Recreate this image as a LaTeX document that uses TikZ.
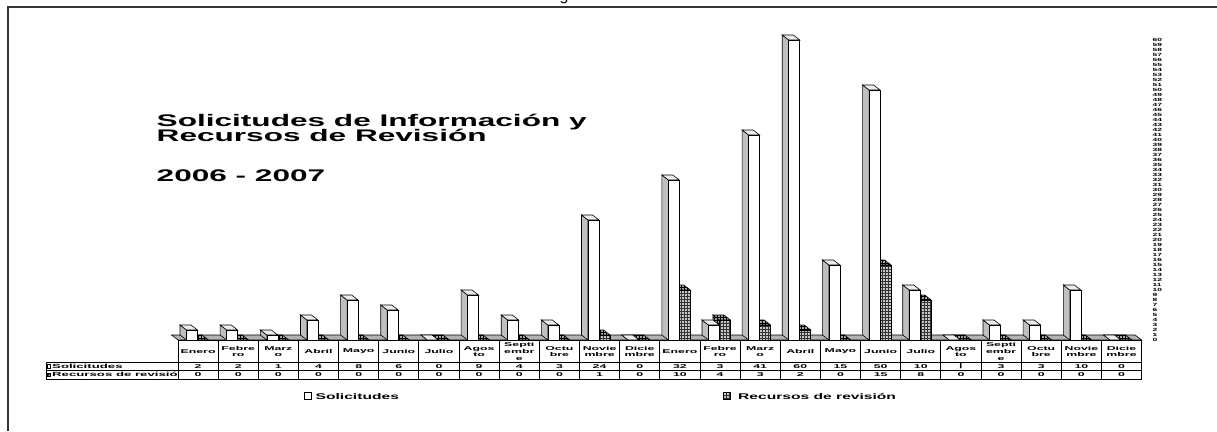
\documentclass[tikz,border=0pt]{standalone}
\usepackage{fontspec}
\setmainfont{Liberation Sans}
\newfontfamily\chartfont[FakeStretch=1.88]{Liberation Sans}
\newfontfamily\tabfont[FakeStretch=2.2]{Liberation Sans}
\usetikzlibrary{patterns}

\begin{document}
\begin{tikzpicture}[x=1pt, y=-1pt,
    cell/.style={inner sep=0pt, align=center, font=\tabfont\bfseries\fontsize{5.6}{6.8}\selectfont},
    rowlabel/.style={anchor=west, inner sep=0pt, font=\tabfont\bfseries\fontsize{6}{7}\selectfont},
    tick/.style={anchor=west, inner sep=0pt, font=\chartfont\bfseries\fontsize{4.5}{5}\selectfont},
    legend/.style={anchor=base west, inner sep=0pt, font=\chartfont\bfseries\fontsize{8.3}{9}\selectfont},
    title/.style={anchor=base west, inner sep=0pt, font=\chartfont\bfseries\fontsize{16.8}{18}\selectfont},
    tablegrid/.style={draw=black, line width=0.9pt},
    solfront/.style={draw=black, line width=0.6pt, fill=white},
    solside/.style={draw=black, line width=0.6pt, fill=gray!50},
    soltop/.style={draw=black, line width=0.6pt, fill=gray!15},
    recfront/.style={draw=black, line width=0.6pt, preaction={fill=gray!45}, pattern=grid, pattern color=black!80},
    recside/.style={draw=black, line width=0.6pt, preaction={fill=gray!70}, pattern=grid, pattern color=black}]

  \useasboundingbox (0,0) rectangle (1217,431);
  \node[anchor=base, inner sep=0pt, font=\fontsize{16}{16}\selectfont] (cutg) at (564,0.5) {g};
  \draw[line width=1.2pt, black!80] (8,431) -- (8,7) -- (1217,7);

  \node[title] (title1) at (156.5,126.7) {Solicitudes de Información y};
  \node[title] (title2) at (156.5,141.7) {Recursos de Revisión};
  \node[title] (years) at (156.5,181) {2006 - 2007};

  \filldraw[fill=gray!60, draw=black, line width=0.6pt] (178,340) -- (1141.6,340) -- (1135.1,335) -- (171.5,335) -- cycle;

  \foreach \s/\r/\ls [count=\i from 0] in {2/0/2,2/0/2,1/0/1,4/0/4,8/0/8,6/0/6,0/0/0,9/0/9,4/0/4,3/0/3,24/1/24,0/0/0,32/10/32,3/4/3,41/3/41,60/2/60,15/0/15,50/15/50,10/8/10,0/0/|,3/0/3,3/0/3,10/0/10,0/0/0}{
    \pgfmathsetmacro\xr{178+40.15*\i+19.5}
    \pgfmathsetmacro\xs{\xr-11}
    \pgfmathsetmacro\hr{340-5*\r}
    \pgfmathsetmacro\hs{340-5*\s}
    \draw[recside] (\xr,340) -- ({\xr-6.5},335) -- ({\xr-6.5},{\hr-5}) -- (\xr,\hr) -- cycle;
    \draw[recside] (\xr,\hr) -- ({\xr-6.5},{\hr-5}) -- ({\xr+4.5},{\hr-5}) -- ({\xr+11},\hr) -- cycle;
    \draw[recfront] (\xr,340) rectangle ({\xr+11},\hr);
    \draw[solside] (\xs,340) -- ({\xs-6.5},335) -- ({\xs-6.5},{\hs-5}) -- (\xs,\hs) -- cycle;
    \draw[soltop] (\xs,\hs) -- ({\xs-6.5},{\hs-5}) -- ({\xs+4.5},{\hs-5}) -- ({\xs+11},\hs) -- cycle;
    \draw[solfront] (\xs,340) rectangle ({\xs+11},\hs);
    \node[cell] (sol\i) at ({178+40.15*(\i+0.5)},366.3) {\ls};
    \node[cell] (rec\i) at ({178+40.15*(\i+0.5)},374.8) {\r};
  }

  \foreach \m [count=\k from 0] in {Enero,Febre\\ro,Marz\\o,Abril,Mayo,Junio,Julio,Agos\\to,Septi\\embr\\e,Octu\\bre,Novie\\mbre,Dicie\\mbre}
    \foreach \yr in {0,12}
      \node[cell] (month\k-\yr) at ({178+40.15*(\k+\yr+0.5)},351.5) {\m};

  \foreach \i in {0,...,24}
    \draw[tablegrid] ({178+40.15*\i},340) -- ({178+40.15*\i},379);
  \draw[tablegrid] (178,340) -- (1141.6,340);
  \draw[tablegrid] (46,362) -- (1141.6,362);
  \draw[tablegrid] (46,370.5) -- (1141.6,370.5);
  \draw[tablegrid] (46,379) -- (1141.6,379);
  \draw[tablegrid] (46,362) -- (46,379);

  \draw[solfront] (47,364.5) rectangle (50.5,368);
  \node[rowlabel] (solrow) at (52,366.3) {Solicitudes};
  \draw[recfront] (47,373) rectangle (50.5,376.5);
  \begin{scope}
    \clip (46,370.5) rectangle (177.5,379);
    \node[rowlabel] (recrow) at (52,374.8) {Recursos de revisión};
  \end{scope}

  \foreach \v in {0,...,60}
    \node[tick] (tick\v) at (1152.5,{340-5*\v}) {\v};

  \draw[solfront] (304,392.5) rectangle (311,399.5);
  \node[legend] (legsol) at (315.5,399.5) {Solicitudes};
  \draw[recfront] (723,392.5) rectangle (730.5,399.5);
  \node[legend] (legrec) at (738,399.5) {Recursos de revisión};
\end{tikzpicture}
\end{document}
